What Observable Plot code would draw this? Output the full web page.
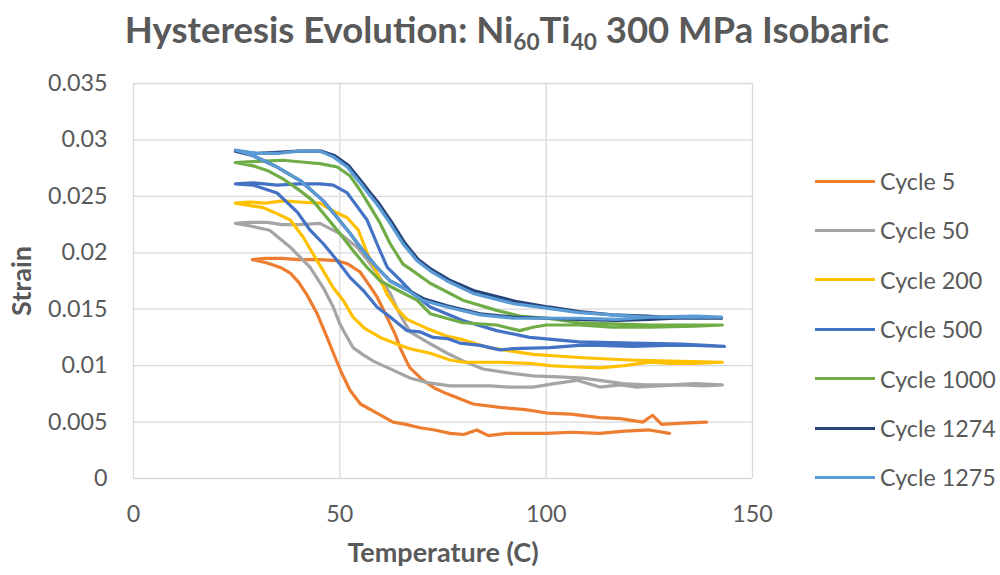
<!DOCTYPE html>
<html>
<head>
<meta charset="utf-8">
<script src="https://cdn.jsdelivr.net/npm/d3@7"></script>
<script src="https://cdn.jsdelivr.net/npm/@observablehq/plot@0.6"></script>
<style>
  html, body { margin: 0; padding: 0; background: #fff; }
  #wrap { position: relative; width: 1000px; height: 575px; overflow: hidden; font-family: Lato, "Open Sans", sans-serif; color: #595959; }
  #title { height: 60px; line-height: 58px; text-align: center; font-weight: bold; font-size: 36.5px; white-space: nowrap; padding-left: 14px; }
  #title sub { font-size: 0.62em; vertical-align: -0.32em; line-height: 0; }
  #legend { position: absolute; left: 815px; top: 0; }
  .row { position: absolute; left: 0; height: 30px; display: flex; align-items: center; white-space: nowrap; font-size: 23.3px; }
  .sw { width: 60px; height: 3px; margin-right: 5px; }
</style>
</head>
<body>
<div id="wrap">
  <div id="title">Hysteresis Evolution: Ni<sub>60</sub>Ti<sub>40</sub> 300 MPa Isobaric</div>
  <div id="chart"></div>
  <div id="legend"></div>
</div>
<script>
const cycles = ["Cycle 5", "Cycle 50", "Cycle 200", "Cycle 500", "Cycle 1000", "Cycle 1274", "Cycle 1275"];
const colors = ["#ED7D31", "#A5A5A5", "#FFC000", "#4472C4", "#70AD47", "#264478", "#5B9BD5"];
const xTicks = [0, 50, 100, 150];
const yTicks = [0, 0.005, 0.01, 0.015, 0.02, 0.025, 0.03, 0.035];

// Cycle 5: cooling branch (from hot) then heating branch
const c5T = [129.9,125,119,113,106,100,95,90.5,86,83.2,80,76.7,73,69.4,66,62.9,59,55,52.5,50.5,48.9,46.9,44.5,42,40,38,35.6,32.4,28.8,
             32,36,40,45,49.4,52,54.9,57,59,60.5,62.2,63.5,64.6,66,67,70.2,73,76,82.3,88.8,95,100.2,106,113,118,123.4,125.8,128,133,138.9];
const c5S = [0.0040,0.0043,0.0042,0.0040,0.0041,0.0040,0.0040,0.0040,0.0038,0.0043,0.0039,0.0040,0.0043,0.0045,0.0048,0.0050,0.0058,0.0066,0.0078,0.0093,0.0107,0.0125,0.0146,0.0163,0.0174,0.0182,0.0187,0.0191,0.0194,
             0.0195,0.0195,0.0194,0.0194,0.0193,0.0190,0.0183,0.0172,0.0161,0.0150,0.0137,0.0127,0.0116,0.0105,0.0098,0.0087,0.0080,0.0075,0.0066,0.0063,0.0061,0.0058,0.0057,0.0054,0.0053,0.0050,0.0056,0.0048,0.0049,0.0050];

const c50T = [24.7,28,32.4,36,40,45.2,50,54.2,57,59,62.2,64.6,67,71.1,76,80,84.7,90,96.8,103,108.9,113,118.5,124,130,136,142.7,
              138,133,127,122,118,113,107.4,102,96.8,91,86.4,80,76.7,71.1,67,62.9,58.1,55.5,53.2,51.5,50,48.4,46,42.8,38,33,28,24.7];
const c50S = [0.0226,0.0227,0.0227,0.0225,0.0225,0.0226,0.0217,0.0205,0.0192,0.0182,0.0164,0.0145,0.0130,0.0121,0.0111,0.0104,0.0097,0.0094,0.0091,0.0090,0.0089,0.0087,0.0084,0.0083,0.0083,0.0084,0.0083,
              0.0082,0.0083,0.0082,0.0081,0.0083,0.0081,0.0087,0.0084,0.0081,0.0081,0.0082,0.0082,0.0082,0.0085,0.0089,0.0096,0.0104,0.0110,0.0116,0.0127,0.0137,0.0152,0.0169,0.0187,0.0205,0.0220,0.0224,0.0226];

const c200T = [24.7,28,32,36.3,40,45.2,48.4,51.8,54.5,56.6,59,61.5,63.9,66.3,71.1,76,79.8,86,96.8,108.9,120,130,142.7,
               136,130,125,119,113,106,100.9,96,88.8,80,76.7,71.9,67,64.6,59.8,56,53.2,50.8,48.4,46,43.5,41.1,38,34,31.4,28,24.7];
const c200S = [0.0244,0.0245,0.0244,0.0246,0.0245,0.0244,0.0237,0.0231,0.0220,0.0200,0.0182,0.0163,0.0150,0.0141,0.0133,0.0126,0.0123,0.0116,0.0110,0.0107,0.0105,0.0104,0.0103,
               0.0102,0.0102,0.0103,0.0100,0.0098,0.0099,0.0100,0.0102,0.0103,0.0103,0.0105,0.0111,0.0115,0.0118,0.0125,0.0133,0.0143,0.0158,0.0169,0.0184,0.0199,0.0214,0.0229,0.0236,0.0240,0.0242,0.0244];

const c500T = [24.7,29,34.8,40,45.2,48.4,51.8,53.2,56.6,59,61.5,64.6,67.7,71.9,79.8,88,96,108,121,133,143.2,
               136,129,121,113,108,100.9,92,88.8,84,79.1,76,72.6,69.4,66.3,62.2,59,55.6,52.5,49.4,46,42.8,39.7,34.8,29,24.7];
const c500S = [0.0261,0.0262,0.0260,0.0261,0.0261,0.0260,0.0253,0.0246,0.0229,0.0208,0.0187,0.0176,0.0164,0.0152,0.0140,0.0131,0.0125,0.0121,0.0120,0.0119,0.0117,
               0.0118,0.0118,0.0117,0.0118,0.0118,0.0116,0.0115,0.0114,0.0118,0.0120,0.0124,0.0125,0.0130,0.0131,0.0143,0.0152,0.0167,0.0178,0.0193,0.0208,0.0220,0.0236,0.0253,0.0260,0.0261];

const c1000T = [24.7,30,36.3,42,45.2,49.4,52.5,55,57.5,59.8,62.2,65.3,67.7,71.9,79.8,88,93.6,100,108,116,125,134,142.7,
                136,125,116,108,100,96.8,93.6,88,79.8,71.9,68.7,63.9,59.8,56.6,53.2,50,46.9,43.5,40,36,32.4,29,24.7];
const c1000S = [0.0280,0.0281,0.0282,0.0280,0.0279,0.0276,0.0268,0.0255,0.0240,0.0226,0.0208,0.0190,0.0184,0.0173,0.0158,0.0149,0.0144,0.0142,0.0138,0.0137,0.0136,0.0136,0.0136,
                0.0135,0.0134,0.0134,0.0136,0.0136,0.0134,0.0131,0.0136,0.0138,0.0146,0.0158,0.0167,0.0175,0.0187,0.0202,0.0217,0.0231,0.0246,0.0256,0.0266,0.0273,0.0277,0.0280];

const c1274T = [24.7,30,34.8,40,45.6,48.8,52.2,55.3,57.4,59.4,62.6,65.7,69,72.3,76.5,82.8,92.5,100.5,108,116,124.3,133,142.5,
                136,125,117,108,100,92,84,76,70.5,66.5,62.2,59,55.6,52.5,49.4,46,40.4,34.8,29,24.7];
const c1274S = [0.0290,0.0288,0.0289,0.0290,0.0290,0.0286,0.0277,0.0263,0.0253,0.0244,0.0227,0.0209,0.0194,0.0185,0.0176,0.0166,0.0157,0.0152,0.0148,0.0145,0.0144,0.0142,0.0142,
                0.0143,0.0141,0.0140,0.0141,0.0142,0.0143,0.0146,0.0153,0.0159,0.0167,0.0175,0.0187,0.0202,0.0217,0.0231,0.0246,0.0264,0.0276,0.0286,0.0290];

const c1275T = [24.7,30,34.8,40,45.2,48.4,51.8,54.9,57,59,62.2,65.3,68.7,71.9,76,82.3,92,100,108,116,124.3,133,142.5,
                136,125,117,108,100,92,84,76,70,66.3,62.2,59,55.6,52.5,49.4,46,40.4,34.8,29,24.7];
const c1275S = [0.0291,0.0288,0.0288,0.0290,0.0290,0.0285,0.0276,0.0262,0.0252,0.0243,0.0226,0.0208,0.0193,0.0184,0.0175,0.0164,0.0155,0.0151,0.0147,0.0145,0.0143,0.0143,0.0143,
                0.0144,0.0143,0.0141,0.0142,0.0142,0.0142,0.0145,0.0152,0.0158,0.0167,0.0175,0.0187,0.0202,0.0217,0.0231,0.0246,0.0264,0.0276,0.0286,0.0291];

const seriesT = [c5T, c50T, c200T, c500T, c1000T, c1274T, c1275T];
const seriesS = [c5S, c50S, c200S, c500S, c1000S, c1274S, c1275S];

const data = cycles.flatMap((name, i) => seriesT[i].map((t, j) => ({cycle: name, T: t, S: seriesS[i][j]})));

const fmtY = d => d === 0 ? "0" : d3.format(".3~f")(d);
const gridStyle = {stroke: "#d9d9d9", strokeOpacity: 1, strokeWidth: 1.3};

const chart = Plot.plot({
  width: 1000,
  height: 515,
  marginLeft: 133,
  marginRight: 248,
  marginTop: 23,
  marginBottom: 97,
  style: {fontFamily: "Lato, 'Open Sans', sans-serif", color: "#595959", background: "transparent", overflow: "visible"},
  x: {domain: [0, 150]},
  y: {domain: [0, 0.035]},
  color: {domain: cycles, range: colors},
  marks: [
    Plot.gridX(xTicks, gridStyle),
    Plot.gridY(yTicks, gridStyle),
    Plot.axisX(xTicks, {tickSize: 0, tickPadding: 27, fontSize: 23.3, label: null, tickFormat: d => String(d)}),
    Plot.axisY(yTicks, {tickSize: 0, tickPadding: 26, fontSize: 23.3, label: null, tickFormat: fmtY}),
    Plot.line(data, {x: "T", y: "S", z: "cycle", stroke: "cycle", strokeWidth: 3.2, strokeLinejoin: "round", strokeLinecap: "round"}),
    Plot.text(["Strain"], {text: d => d, frameAnchor: "left", textAnchor: "middle", lineAnchor: "middle", dx: -111, rotate: -90, fontSize: 27, fontWeight: "bold", fill: "#595959"}),
    Plot.text(["Temperature (C)"], {text: d => d, frameAnchor: "bottom", textAnchor: "middle", lineAnchor: "middle", dy: 75, fontSize: 27, fontWeight: "bold", fill: "#595959"})
  ]
});
document.getElementById("chart").appendChild(chart);

const legend = document.getElementById("legend");
cycles.forEach((name, i) => {
  const row = document.createElement("div");
  row.className = "row";
  row.style.top = (166 + i * 49.4) + "px";
  const sw = document.createElement("div");
  sw.className = "sw";
  sw.style.background = colors[i];
  const label = document.createElement("span");
  label.textContent = name;
  row.appendChild(sw);
  row.appendChild(label);
  legend.appendChild(row);
});
</script>
</body>
</html>
